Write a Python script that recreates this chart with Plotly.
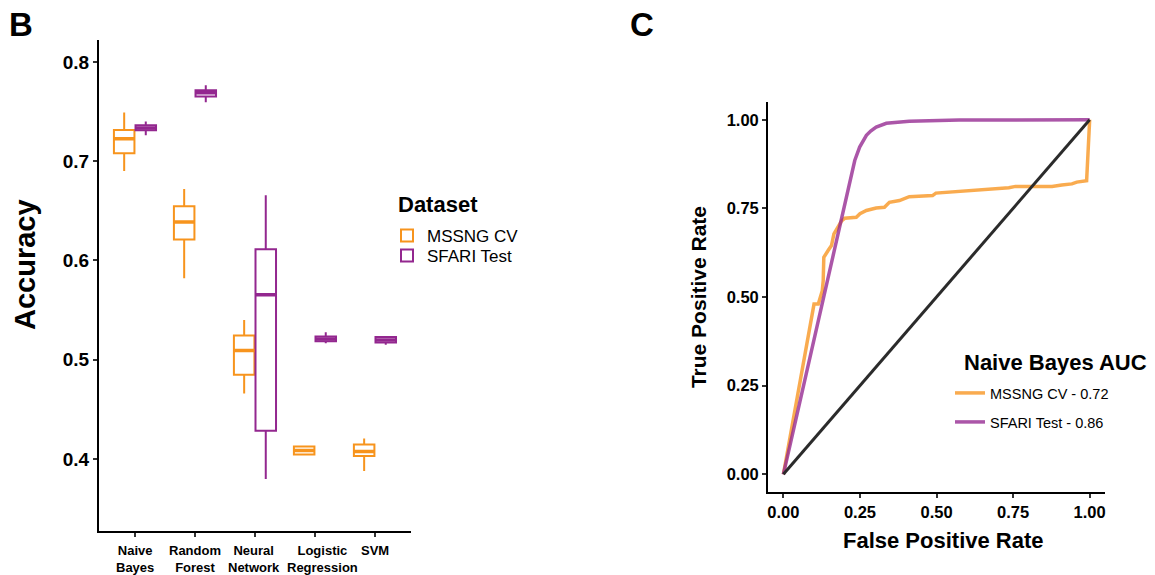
import plotly.graph_objects as go

# ---- Panel B: accuracy by model (box summaries) ----
models = ["Naive Bayes", "Random Forest", "Neural Network", "Logistic Regression", "SVM"]
model_labels = ["Naive<br>Bayes", "Random<br>Forest", "Neural<br>Network", "Logistic<br>Regression", "SVM"]

mssng_low = [0.690, 0.582, 0.466, 0.4043, 0.388]
mssng_q1 = [0.708, 0.621, 0.485, 0.4046, 0.403]
mssng_med = [0.7225, 0.6386, 0.5093, 0.4086, 0.4076]
mssng_q3 = [0.7315, 0.6547, 0.5244, 0.4126, 0.4146]
mssng_high = [0.749, 0.672, 0.540, 0.4133, 0.4207]

sfari_low = [0.7262, 0.7594, 0.380, 0.5167, 0.515]
sfari_q1 = [0.7312, 0.765, 0.4284, 0.5187, 0.5174]
sfari_med = [0.7333, 0.769, 0.5654, 0.521, 0.520]
sfari_q3 = [0.7362, 0.7715, 0.6114, 0.5234, 0.523]
sfari_high = [0.740, 0.7765, 0.6657, 0.5278, 0.5234]

# ---- Panel C: Naive Bayes ROC curves ----
mssng_fpr = [0.0, 0.097, 0.100, 0.114, 0.120, 0.127, 0.130, 0.132, 0.146, 0.157, 0.165,
             0.179, 0.190, 0.200, 0.238, 0.250, 0.271, 0.303, 0.330, 0.346, 0.379, 0.411,
             0.487, 0.498, 0.574, 0.628, 0.660, 0.736, 0.758, 0.877, 0.909, 0.942, 0.958,
             0.990, 1.0]
mssng_tpr = [0.0, 0.470, 0.480, 0.480, 0.500, 0.518, 0.546, 0.612, 0.631, 0.645, 0.678,
             0.697, 0.715, 0.722, 0.725, 0.735, 0.744, 0.751, 0.753, 0.767, 0.772, 0.783,
             0.786, 0.793, 0.798, 0.802, 0.805, 0.808, 0.812, 0.812, 0.816, 0.819, 0.824,
             0.828, 1.0]

sfari_fpr = [0.0, 0.233, 0.249, 0.260, 0.271, 0.285, 0.303, 0.336, 0.411, 0.574, 1.0]
sfari_tpr = [0.0, 0.885, 0.923, 0.942, 0.956, 0.968, 0.979, 0.990, 0.996, 0.999, 1.0]

chance = [0.0, 1.0]

ORANGE = "#F7941D"
PURPLE = "#93278F"
ORANGE_ROC = "rgba(247,148,29,0.78)"
PURPLE_ROC = "rgba(147,39,143,0.78)"
FONT = "Liberation Sans, Arial, sans-serif"
W, H = 1155, 575

# horizontal nudges (px) for the category labels under panel B
label_nudge = [0, 0, -1, 8, 0]


def px_x(v):
    return v / W


def px_y(v):
    return 1 - v / H


fig = go.Figure()


def box_trace(name, low, q1, med, q3, high, color, group, legend_id):
    return go.Box(
        name=name, x=models, q1=q1, median=med, q3=q3,
        lowerfence=low, upperfence=high,
        line=dict(color=color, width=2), fillcolor="white",
        whiskerwidth=0, offsetgroup=group, showlegend=True,
        legend=legend_id, xaxis="x", yaxis="y", hoverinfo="skip",
    )


def median_bar(med, color, group):
    # thicker median stroke drawn on top of each box
    return go.Box(
        x=models, q1=med, median=med, q3=med, lowerfence=med, upperfence=med,
        line=dict(color=color, width=3.5), fillcolor="rgba(0,0,0,0)",
        whiskerwidth=0, offsetgroup=group, showlegend=False,
        xaxis="x", yaxis="y", hoverinfo="skip",
    )


fig.add_trace(box_trace("MSSNG CV", mssng_low, mssng_q1, mssng_med, mssng_q3, mssng_high,
                        ORANGE, "a", "legend"))
fig.add_trace(box_trace("SFARI Test", sfari_low, sfari_q1, sfari_med, sfari_q3, sfari_high,
                        PURPLE, "b", "legend4"))
fig.add_trace(median_bar(mssng_med, ORANGE, "a"))
fig.add_trace(median_bar(sfari_med, PURPLE, "b"))

fig.add_trace(go.Scatter(x=mssng_fpr, y=mssng_tpr, mode="lines", name="MSSNG CV - 0.72",
                         line=dict(color=ORANGE_ROC, width=3.5), xaxis="x2", yaxis="y2",
                         legend="legend2"))
fig.add_trace(go.Scatter(x=sfari_fpr, y=sfari_tpr, mode="lines", name="SFARI Test - 0.86",
                         line=dict(color=PURPLE_ROC, width=3.5), xaxis="x2", yaxis="y2",
                         legend="legend3"))
fig.add_trace(go.Scatter(x=chance, y=chance, mode="lines", showlegend=False,
                         line=dict(color="#2b2b2b", width=3), xaxis="x2", yaxis="y2"))

axis_common = dict(showline=True, linecolor="black", linewidth=2, ticks="outside",
                   ticklen=4, tickwidth=1.5, tickcolor="#333333", showgrid=False,
                   zeroline=False, automargin=False)

roc_ticks = [0, 0.25, 0.5, 0.75, 1.0]
roc_labels = ["0.00", "0.25", "0.50", "0.75", "1.00"]


def item_legend(x_left, y_mid, size):
    return dict(x=px_x(x_left), y=px_y(y_mid), xanchor="left", yanchor="middle",
                font=dict(size=size), bgcolor="rgba(0,0,0,0)", borderwidth=0)


# category labels under panel B, placed on the category axis
category_labels = [
    dict(text=lab, x=cat, xref="x", y=px_y(541), yref="paper", xshift=dx,
         xanchor="center", yanchor="top", showarrow=False, align="center",
         font=dict(size=13, weight="bold", color="black"))
    for cat, lab, dx in zip(models, model_labels, label_nudge)
]

fig.update_layout(
    width=W, height=H,
    margin=dict(l=0, r=0, t=0, b=0, autoexpand=False),
    paper_bgcolor="white", plot_bgcolor="white",
    font=dict(family=FONT, color="black"),
    boxmode="group", boxgap=0.28, boxgroupgap=0.05,
    xaxis=dict(domain=[0.0857, 0.3558], type="category", categoryorder="array",
               categoryarray=models, range=[-0.6, 4.6], showticklabels=False,
               anchor="y", **axis_common),
    yaxis=dict(domain=[0.0765, 0.9304], range=[0.3275, 0.822],
               tickvals=[0.4, 0.5, 0.6, 0.7, 0.8], ticktext=["0.4", "0.5", "0.6", "0.7", "0.8"],
               tickfont=dict(size=19, weight="bold", color="black"),
               anchor="x", **axis_common),
    xaxis2=dict(domain=[0.665, 0.9567], range=[-0.05, 1.05],
                tickvals=roc_ticks, ticktext=roc_labels, tickangle=0,
                tickfont=dict(size=16.5, weight="bold", color="black"),
                anchor="y2", **axis_common),
    yaxis2=dict(domain=[0.1443, 0.8226], range=[-0.05, 1.05],
                tickvals=roc_ticks, ticktext=roc_labels,
                tickfont=dict(size=16.5, weight="bold", color="black"),
                title=dict(text="True Positive Rate", font=dict(size=21, weight="bold"), standoff=14),
                anchor="x2", **axis_common),
    legend=item_legend(387, 236, 17),
    legend4=item_legend(387, 256, 17),
    legend2=item_legend(950, 393, 14.5),
    legend3=item_legend(950, 422, 14.5),
    annotations=category_labels + [
        dict(text="B", x=px_x(7), y=px_y(4), xref="paper", yref="paper",
             xanchor="left", yanchor="top", showarrow=False,
             font=dict(size=33, weight="bold", color="black")),
        dict(text="C", x=px_x(628), y=px_y(4), xref="paper", yref="paper",
             xanchor="left", yanchor="top", showarrow=False,
             font=dict(size=33, weight="bold", color="black")),
        dict(text="Accuracy", x=px_x(25), y=px_y(265), xref="paper", yref="paper",
             xanchor="center", yanchor="middle", textangle=-90, showarrow=False,
             font=dict(size=29, weight="bold", color="black")),
        dict(text="False Positive Rate", x=px_x(943), y=px_y(540), xref="paper", yref="paper",
             xanchor="center", yanchor="middle", showarrow=False,
             font=dict(size=22, weight="bold", color="black")),
        dict(text="Dataset", x=px_x(396), y=px_y(205), xref="paper", yref="paper",
             xanchor="left", yanchor="middle", showarrow=False,
             font=dict(size=22, weight="bold", color="black")),
        dict(text="Naive Bayes AUC", x=px_x(962), y=px_y(362), xref="paper", yref="paper",
             xanchor="left", yanchor="middle", showarrow=False,
             font=dict(size=22, weight="bold", color="black")),
    ],
)

fig.write_html("out.html")
